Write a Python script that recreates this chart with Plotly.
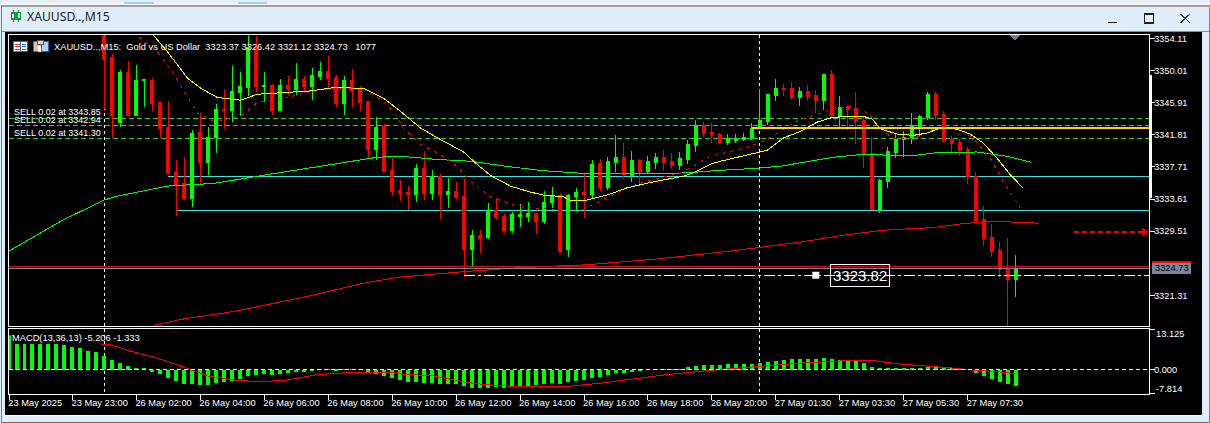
import plotly.graph_objects as go

W, H = 1210, 423

opens = [3356.21,3351.64,3343.42,3349.73,3344.27,3348.68,3348.72,3345.92,3342.75,3337.03,
 3335.64,3333.73,3342.11,3338.30,3341.48,3345.03,3344.91,3347.19,3347.83,3352.91,
 3347.95,3348.08,3344.91,3348.08,3347.57,3348.84,3347.95,3349.22,3349.86,3349.10,
 3345.80,3348.72,3347.57,3346.05,3339.95,3342.88,3337.29,3334.75,3334.49,3334.24,
 3337.54,3334.37,3336.52,3334.24,3334.62,3333.98,3327.13,3328.90,3328.65,3332.08,
 3331.32,3329.54,3331.44,3331.44,3331.70,3330.68,3333.10,3334.11,3327.13,3333.98,
 3334.49,3334.24,3338.18,3335.13,3338.30,3338.94,3336.65,3338.56,3337.16,3338.30,
 3338.94,3338.43,3337.92,3338.68,3340.46,3343.00,3342.11,3341.86,3340.84,3341.10,
 3341.22,3341.35,3342.88,3343.51,3346.81,3347.70,3347.70,3346.56,3347.32,3346.81,
 3346.18,3349.48,3344.27,3345.42,3345.16,3343.64,3339.45,3332.21,3335.89,3339.57,
 3341.22,3341.35,3342.88,3344.02,3346.94,3344.40,3341.22,3340.84,3339.95,3336.52,
 3330.94,3328.65,3327.00,3324.71,3323.37]
highs = [3356.84,3352.18,3350.11,3351.22,3350.71,3348.93,3349.10,3345.95,3346.18,3338.56,
 3338.94,3342.37,3344.65,3342.75,3345.80,3347.70,3350.62,3349.86,3354.56,3354.40,
 3349.86,3348.34,3348.97,3349.35,3351.00,3349.35,3350.37,3351.13,3351.89,3349.48,
 3349.35,3350.24,3348.08,3346.18,3344.02,3343.13,3338.81,3336.02,3335.25,3338.05,
 3339.70,3337.29,3336.78,3336.27,3335.76,3336.27,3329.67,3329.67,3333.10,3333.73,
 3331.83,3331.95,3332.97,3333.22,3331.75,3334.62,3335.13,3334.37,3334.24,3335.00,
 3336.78,3338.56,3338.68,3338.94,3341.73,3340.72,3339.70,3338.68,3339.06,3339.45,
 3339.83,3339.45,3339.57,3341.10,3343.64,3343.38,3343.26,3341.99,3341.86,3341.86,
 3341.99,3343.26,3347.70,3347.07,3348.97,3348.34,3348.59,3347.95,3348.21,3347.57,
 3349.61,3350.11,3346.81,3345.45,3347.32,3344.15,3341.48,3336.14,3340.21,3341.99,
 3342.24,3344.53,3344.27,3347.32,3347.32,3344.78,3341.60,3341.22,3340.21,3337.03,
 3332.72,3330.43,3328.14,3328.65,3326.42]
lows = [3345.16,3341.39,3342.75,3344.15,3344.20,3345.29,3344.78,3341.39,3336.75,3331.45,
 3333.48,3332.59,3335.51,3336.65,3339.45,3342.49,3343.38,3344.15,3346.81,3347.32,
 3346.05,3344.27,3344.85,3346.94,3346.94,3347.32,3346.30,3348.84,3347.83,3345.29,
 3344.27,3345.29,3344.78,3338.81,3338.56,3337.03,3333.98,3333.35,3332.21,3333.22,
 3333.48,3333.48,3331.06,3332.46,3333.60,3323.61,3324.88,3326.75,3328.52,3330.94,
 3329.29,3329.29,3330.05,3330.68,3329.16,3330.43,3332.46,3326.75,3326.24,3331.95,
 3331.19,3333.73,3334.62,3334.75,3337.03,3336.14,3335.76,3335.51,3336.91,3337.41,
 3337.16,3337.41,3337.29,3338.05,3339.57,3341.48,3340.72,3340.59,3340.46,3340.72,
 3340.97,3341.10,3342.62,3343.00,3346.18,3346.81,3346.30,3345.42,3346.18,3344.53,
 3344.91,3343.89,3342.75,3342.37,3340.59,3337.54,3332.15,3331.83,3335.00,3338.81,
 3338.94,3340.59,3341.60,3343.64,3343.64,3340.84,3339.19,3339.06,3335.51,3330.56,
 3327.64,3326.24,3323.70,3317.35,3321.12]
closes = [3351.42,3344.27,3349.73,3344.27,3348.72,3348.81,3345.80,3342.62,3336.91,3335.51,
 3333.73,3341.99,3338.30,3341.48,3345.03,3344.91,3347.32,3347.95,3352.91,3347.95,
 3348.08,3344.91,3348.08,3347.57,3348.84,3347.95,3349.35,3349.86,3348.97,3345.80,
 3348.72,3347.45,3345.92,3339.95,3342.75,3337.16,3334.62,3334.37,3334.24,3337.54,
 3334.37,3336.52,3334.24,3334.62,3333.86,3327.13,3328.90,3328.52,3332.08,3331.19,
 3329.54,3331.57,3331.57,3331.70,3330.68,3333.22,3334.11,3326.87,3334.11,3334.49,
 3334.24,3338.05,3335.13,3338.43,3338.94,3336.78,3338.56,3337.16,3338.43,3338.94,
 3338.30,3337.92,3338.81,3340.59,3343.00,3341.99,3341.86,3340.84,3341.35,3341.35,
 3341.48,3342.62,3343.64,3346.94,3347.70,3347.57,3346.56,3347.32,3346.69,3346.18,
 3349.48,3344.27,3345.29,3345.03,3343.51,3339.32,3332.21,3336.02,3339.70,3341.22,
 3341.48,3343.00,3344.15,3346.94,3344.27,3341.10,3340.72,3339.83,3336.52,3330.81,
 3328.52,3326.87,3324.59,3323.37,3324.73]

yellow_bar = [6.1,7.9,10.4,12.06,14.15,17.06,19.15,22.44,25.8,28.7,32.44,34.94,37.06,39.56,42.06,44.94,46.65,48.31,50.81,53.31,54.94,57.44,58.31,60.4,62.9,65.4,68.69,72.44,73.69,75.81,77.06,80.81,82.9,84.94,87.06,89.15,91.19,94.94,96.03,97.06,99.15,101.19,102.9,104.56,106.65,108.31,109.94,111.65,113.31,114.9]
yellow_val = [3354.56,3352.4,3349.01,3347.74,3346.56,3346.22,3346.98,3347.23,3347.41,3347.83,3347.74,3346.47,3344.78,3342.66,3341.19,3339.61,3338.01,3336.61,3335.25,3334.49,3334.11,3333.9,3333.35,3333.48,3334.11,3335.04,3335.8,3336.52,3336.94,3338.05,3338.43,3339.32,3339.83,3341.39,3342.24,3343.42,3344.06,3344.15,3343.85,3342.58,3341.9,3341.73,3342.02,3342.66,3342.53,3341.9,3340.75,3338.85,3336.74,3335.04]
dotted_bar = [4.35,6.65,8.31,9.94,11.65,13.69,17.06,19.15,22.44,26.65,28.69,32.44,34.94,36.65,37.28,39.56,42.06,44.15,45.81,48.31,51.65,54.15,56.19,58.06,59.94,62.06,65.4,67.9,72.06,73.69,75.81,80.4,82.9,85.81,87.06,89.15,91.19,93.31,95.56,97.06,98.53,101.19,103.69,105.4,107.06,108.69,110.81,112.44,114.56]
dotted_val = [3354.3,3352.4,3350.11,3347.32,3344.56,3343.51,3344.15,3345.96,3346.47,3347.54,3347.74,3347.66,3346.05,3344.15,3342.75,3340.55,3339.28,3337.79,3335.89,3333.86,3332.72,3332.37,3332.3,3331.74,3332.3,3333.35,3335.04,3335.89,3336.94,3337.79,3339.06,3340.21,3341.19,3343.09,3343.76,3344.4,3345.2,3345.42,3344.56,3342.66,3341.39,3341.26,3342.46,3342.75,3342.46,3341.39,3338.85,3335.89,3332.5]
green_bar = [-12.03,-5.23,-0.03,1.65,7.9,13.69,19.94,28.69,34.15,37.06,41.65,45.81,49.56,54.56,59.94,64.56,72.9,76.65,81.19,84.56,87.06,91.19,94.56,97.44,101.19,104.56,109.15,112.9,115.9]
green_val = [3326.91,3330.9,3333.48,3333.99,3335.26,3335.6,3336.65,3338.09,3338.94,3339.07,3338.65,3338.43,3337.88,3337.25,3336.87,3336.82,3336.94,3337.25,3337.5,3337.79,3338.24,3338.94,3339.28,3339.23,3339.15,3339.57,3339.61,3339.06,3338.3]
slow_bar = [6.23,9.56,16.19,24.56,32.9,37.06,44.94,51.19,60.4,69.15,78.69,87.06,92.44,97.44,103.69,107.44,111.19,116.94]
slow_val = [3317.47,3318.24,3319.25,3320.99,3322.97,3323.65,3324.33,3324.8,3325.22,3325.95,3327.0,3328.1,3328.99,3329.63,3329.96,3330.47,3330.77,3330.52]

macd_hist = [11.06,8.49,8.49,8.49,8.49,8.49,8.38,8.16,7.52,7.2,6.23,5.91,4.62,3.0,2.04,1.07,0.43,0.1,
 -0.86,-1.5,-2.79,-3.76,-4.73,-4.73,-5.05,-5.05,-4.4,-4.08,-3.76,-3.11,-2.15,-1.83,-1.5,-1.83,-1.5,-1.18,-0.86,-0.86,-0.54,-0.21,-0.1,-0.54,-0.21,-0.1,-0.21,-0.86,-1.5,-2.15,-2.79,-3.44,
 -4.08,-4.08,-4.4,-4.4,-4.73,-4.73,-4.73,-5.37,-6.02,-6.02,-6.02,-5.69,-6.02,-5.69,-5.37,-5.37,-5.05,-4.73,-4.4,-4.73,-4.08,-3.76,-3.44,-2.79,-2.47,-1.83,-1.18,-1.18,-0.86,-0.54,-0.21,-0.21,-0.1,-0.1,
 0.05,0.75,1.07,1.4,1.4,1.4,1.72,1.72,1.72,1.72,2.04,2.36,2.69,3.0,3.33,3.33,
 3.33,3.33,3.65,3.33,3.0,2.69,2.69,2.04,0.75,0.1,0.1,0.1,0.1,0.2,0.3,0.75,0.75,0.43,0.43,0.2,0.05,-1.18,-2.15,-3.11,-4.08,-4.73,-5.21]
macd_first_bar = -12
signal_bar = [-12,-11.46,None,-0.42,0.83,3.75,6.67,8.75,10.83,12.92,16.25,19.17,22.5,26.67,30.42,36.67,37.06,41.23,45.4,47.9,50.81,58.31,62.06,66.23,70.4,75.4,78.73,82.9,87.06,92.48,96.44,99.56,103.73,106.65,107.9,111.23,113.98]
signal_val = [11.28,11.28,None,8.38,8.06,5.69,3.76,1.93,0,-2.04,-3.44,-3.87,-3.54,-1.61,-0.97,-0.86,-1.4,-2.04,-4.19,-4.94,-5.37,-5.37,-4.4,-2.9,-1.61,-0.32,0.43,1.4,2.15,2.9,2.9,1.83,1.07,0.43,0,-0.54,-1.33]

price_ticks = [3354.11,3350.01,3345.91,3341.81,3337.71,3333.61,3329.51,3321.31]
macd_ticks = [13.125,0.0,-7.814]
time_tick_bars = [-11.9,-4,4,12,20,28,36,44,52,60,68,76,84,92,100,108]
time_tick_labels = ["23 May 2025","23 May 23:00","26 May 02:00","26 May 04:00","26 May 06:00","26 May 08:00",
 "26 May 10:00","26 May 12:00","26 May 14:00","26 May 16:00","26 May 18:00","26 May 20:00",
 "27 May 01:30","27 May 03:30","27 May 05:30","27 May 07:30"]

sell_prices = [3343.85,3342.94,3341.30]
cyan_levels = [(3336.46,8),(3332.14,9)]
gold_level = 3342.62
gold_start_bar = 81
ask_level = 3325.03
bid_level = 3324.76
entry_level = 3323.87
entry_start_bar = 45
entry_mark_bar = 89
target_level = 3329.42
target_bars = [121.3,130.1]
day_sep_bars = [0,82]
FONT = "Liberation Sans"
TXT = 9.3
X_MIN, X_MAX = -11.94, 130.69

def fx(x): return x/W
def fy(y): return 1-y/H

shapes = []
def rect(x0,y0,x1,y1,fill,line=None,lw=1):
    shapes.append(dict(type="rect",xref="paper",yref="paper",x0=fx(x0),x1=fx(x1),y0=fy(y0),y1=fy(y1),
        fillcolor=fill,line=dict(color=line or fill,width=lw if line else 0),layer="below"))
def seg(x0,y0,x1,y1,color,lw=1):
    shapes.append(dict(type="line",xref="paper",yref="paper",x0=fx(x0),x1=fx(x1),y0=fy(y0),y1=fy(y1),
        line=dict(color=color,width=lw),layer="above"))

# window chrome
rect(0,0,W,3,"#f2f2f2")
rect(237,0,266,2,"#a9cfee")
rect(123,0,153,2,"#a9cfee")
rect(0,3,W,5,"#a0a0a0")
rect(4.5,29.5,1202,414.5,"#000000")
rect(0,29,W,30.5,"#7f8a94")
rect(4.5,414.5,1202,415.5,"#ffffff")
rect(0,421.5,W,H,"#6f6f6f")
rect(0,4,1.5,H,"#7c7c7c")
rect(1208.5,4,W,H,"#7c7c7c")
# title icon
rect(10.5,11,14,17,"#e0eefb","#179a3a",1.2)
rect(16,10.5,19.5,17,"#e0eefb","#179a3a",1.2)
seg(12.3,8.5,12.3,11,"#179a3a",1.2); seg(12.3,17,12.3,20,"#179a3a",1.2)
seg(17.7,8,17.7,10.5,"#179a3a",1.2); seg(17.7,17,17.7,20,"#179a3a",1.2)
# window buttons
seg(1108,20.5,1117,20.5,"#222222",1.5)
rect(1144.5,12,1153.5,21,"rgba(0,0,0,0)","#222222",1.3)
seg(1180.5,12,1190,21,"#333333",1.2); seg(1190,12,1180.5,21,"#333333",1.2)
# sub-window icons
rect(12.5,39.5,26.5,49.5,"#ffffff","#d9352b",1)
rect(20,39.5,26.5,49.5,"#ffffff","#1f6fb8",1)
for yy in (42.5,45,47.5):
    seg(14,yy,19,yy,"#d9352b",1); seg(21,yy,25.5,yy,"#1f6fb8",1)
rect(33,39.5,41,50,"#f4b6a8","#d9352b",1)
rect(41,39.5,48,50,"#a9d3ee","#1f6fb8",1)
rect(37,39,43,43,"#d8d8d8","#555555",1)
rect(37,44,40,50,"#ffffff")
# scale bar, marker triangle, last price tag
rect(1149,73,1151.5,197,"#ffffff")
shapes.append(dict(type="path",xref="paper",yref="paper",
    path=f"M {fx(1010)},{fy(33.5)} L {fx(1020)},{fy(33.5)} L {fx(1015)},{fy(38.5)} Z",
    fillcolor="#708090",line=dict(width=0),layer="above"))
rect(1152,260,1190.5,273,"#778899")
rect(1152,260,1190.5,262,"#ff0000")

def hline(v,color,lw,dash="solid",start=None,layer="below"):
    d = dict(type="line",yref="y",y0=v,y1=v,line=dict(color=color,width=lw,dash=dash),layer=layer)
    if start is None:
        d.update(xref="x domain",x0=0,x1=1)
    else:
        d.update(xref="x",x0=start,x1=X_MAX)
    shapes.append(d)
for v in sell_prices:
    hline(v,"#32cd32",1,"5px,3px")
for v,s in cyan_levels:
    hline(v,"#40e0e0",1,"solid",s)
hline(ask_level,"#d01010",1,layer="above")
hline(bid_level,"#778899",1,layer="above")
hline(entry_level,"#ffffff",1,"11px,3px,3px,3px",entry_start_bar,"above")
shapes.append(dict(type="line",xref="x2 domain",yref="y2",x0=0,x1=1,y0=0,y1=0,
    line=dict(color="#ffffff",width=1,dash="4px,3px"),layer="above"))
for b in day_sep_bars:
    shapes.append(dict(type="line",xref="x",yref="paper",x0=b,x1=b,y0=fy(33),y1=fy(394),
        line=dict(color="#ffffff",width=1,dash="3px,3px"),layer="below"))

fig = go.Figure()
bars = list(range(len(closes)))
fig.add_trace(go.Candlestick(x=bars,open=opens,high=highs,low=lows,close=closes,xaxis="x",yaxis="y",
    whiskerwidth=0,
    increasing=dict(fillcolor="#00ff00",line=dict(color="#00ff00",width=1)),
    decreasing=dict(fillcolor="#ff0000",line=dict(color="#ff0000",width=1)),
    hoverinfo="skip",showlegend=False))
def ln(xs,ys,color,dash="solid",w=1,xa="x",ya="y"):
    fig.add_trace(go.Scatter(x=xs,y=ys,mode="lines",line=dict(color=color,width=w,dash=dash),
        xaxis=xa,yaxis=ya,hoverinfo="skip",showlegend=False))
ln(green_bar,green_val,"#00ff00")
ln(slow_bar,slow_val,"#ff0000")
ln(dotted_bar,dotted_val,"#ff0000","3px,5px")
ln(yellow_bar,yellow_val,"#ffff00")
ln([gold_start_bar,X_MAX],[gold_level,gold_level],"#ffd700",w=2)
ln(target_bars,[target_level,target_level],"#ff0000","5px,3px",w=1.4)
fig.add_trace(go.Scatter(x=[target_bars[-1]],y=[target_level],mode="markers",
    marker=dict(symbol="triangle-right",size=8,color="#ff0000"),hoverinfo="skip",showlegend=False))
fig.add_trace(go.Scatter(x=[entry_mark_bar],y=[entry_level],mode="markers",
    marker=dict(symbol="square",size=7,color="#ffffff"),hoverinfo="skip",showlegend=False))

hist_bars = [macd_first_bar+i for i in range(len(macd_hist))]
fig.add_trace(go.Bar(x=hist_bars,y=macd_hist,width=0.5,marker=dict(color="#00ff00",line=dict(width=0)),
    xaxis="x2",yaxis="y2",hoverinfo="skip",showlegend=False))
ln(signal_bar,signal_val,"#ff0000",xa="x2",ya="y2")

def note(text,x,y,size=TXT,color="#ffffff",family=FONT,**kw):
    return dict(text=text,xref="paper",yref="paper",x=fx(x),y=fy(y),xanchor="left",yanchor="middle",
        showarrow=False,font=dict(family=family,size=size,color=color),borderpad=0,**kw)
annotations = [
    note("XAUUSD..,M15",25.5,14.5,12.2,"#1a1a1a","Noto Sans"),
    note("XAUUSD..,M15:  Gold vs US Dollar  3323.37 3326.42 3321.12 3324.73   1077",52.5,45),
    note("SELL 0.02 at 3343.85",12.5,111,9),
    note("SELL 0.02 at 3342.94",12.5,118.3,9),
    note("SELL 0.02 at 3341.30",12.5,131.5,9),
    note("MACD(13,36,13) -5.206 -1.333",10.5,337.5),
    note("3324.73",1154,267,TXT,"#000000"),
    note("13.125",1155,333.7),
    note("-7.814",1155,388.7),
    dict(text="3323.82",xref="paper",yref="paper",x=fx(860),y=fy(274.3),xanchor="center",yanchor="middle",
        showarrow=False,font=dict(family=FONT,size=15,color="#ffffff"),
        bordercolor="#ffffff",borderwidth=1,borderpad=2),
]

fr = dict(showline=True,mirror=True,linecolor="#ffffff",linewidth=1,showgrid=False,zeroline=False)
tick_font = dict(family=FONT,size=TXT,color="#ffffff")
fig.update_layout(
    width=W,height=H,margin=dict(l=0,r=0,t=0,b=0),autosize=False,
    paper_bgcolor="#e0eefb",plot_bgcolor="rgba(0,0,0,0)",showlegend=False,
    boxgap=0.45,barmode="overlay",hovermode=False,
    xaxis=dict(domain=[fx(8),fx(1149)],range=[X_MIN,X_MAX],anchor="y",rangeslider=dict(visible=False),
        showticklabels=False,ticks="",**fr),
    yaxis=dict(domain=[fy(326),fy(33.5)],range=[3317.34,3354.50],side="right",anchor="x",
        tickvals=price_ticks,ticktext=[f"{v:.2f}" for v in price_ticks],ticks="outside",ticklen=5,
        tickcolor="#ffffff",tickfont=tick_font,ticklabelstandoff=-3,**fr),
    xaxis2=dict(domain=[fx(8),fx(1149)],range=[X_MIN,X_MAX],anchor="y2",
        tickvals=time_tick_bars,ticktext=time_tick_labels,ticks="outside",ticklen=5,tickcolor="#ffffff",
        tickfont=tick_font,ticklabelposition="outside right",ticklabelshift=-2,tickangle=0,**fr),
    yaxis2=dict(domain=[fy(393.5),fy(329)],range=[-7.814,13.125],side="right",anchor="x2",
        tickvals=macd_ticks,ticktext=["","0.000",""],ticks="outside",ticklen=5,
        tickcolor="#ffffff",tickfont=tick_font,ticklabelstandoff=-3,**fr),
    shapes=shapes,annotations=annotations,
)
css = "html,body{margin:0;padding:0;overflow:hidden}.plotly-graph-div{position:absolute;left:0;top:0}.js-line,.shapelayer path,.boxes path,.bars path{shape-rendering:crispEdges !important}"
fig.write_html("out.html",config=dict(displayModeBar=False),
    post_script="var s=document.createElement('style');s.textContent='"+css+"';document.head.appendChild(s);")
